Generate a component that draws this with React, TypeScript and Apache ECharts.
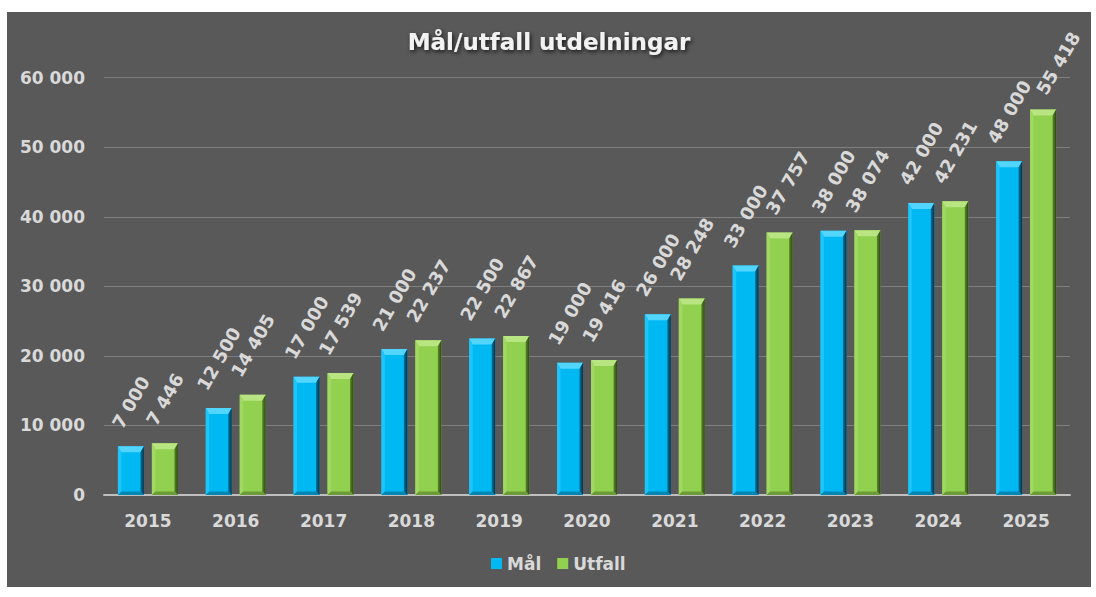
import React, { useEffect, useRef } from "react";
import * as echarts from "echarts";

const years = ["2015", "2016", "2017", "2018", "2019", "2020", "2021", "2022", "2023", "2024", "2025"];
const malValues = [7000, 12500, 17000, 21000, 22500, 19000, 26000, 33000, 38000, 42000, 48000];
const utfallValues = [7446, 14405, 17539, 22237, 22867, 19416, 28248, 37757, 38074, 42231, 55418];
const seriesNames = ["Mål", "Utfall"];
const titleText = "Mål/utfall utdelningar";

const FONT = '"DejaVu Sans", Verdana, sans-serif';
const TEXT = "#d9d9d9";
const LABEL_SIZE = 18;

const fmt = (v: number) => String(v).replace(/\B(?=(\d{3})+(?!\d))/g, " ");

let measureCtx: CanvasRenderingContext2D | null = null;
const measure = (t: string) => {
  if (!measureCtx) {
    const c = document.createElement("canvas");
    measureCtx = c.getContext("2d");
  }
  if (!measureCtx) return t.length * 10;
  measureCtx.font = `bold ${LABEL_SIZE}px ${FONT}`;
  return measureCtx.measureText(t).width;
};

const palettes = [
  { main: "#00b9f2", top: "#52d6ff", left: "#1fc4f8", right: ["#08709a", "#02344a"], bottom: "#0086b5" },
  { main: "#92d050", top: "#b8e482", left: "#a0d862", right: ["#5b882a", "#2e4712"], bottom: "#6c9b37" },
];

// manual nudges of single labels (series-index) -> [dx, dy] pixels, as placed in the reference
const labelNudge: Record<string, [number, number]> = { "1-7": [8, 0], "1-10": [15, 3] };

function makeRender(si: number) {
  const pal = palettes[si];
  return (params: any, api: any) => {
    const idx = api.value(0);
    const val = api.value(1);
    const [cx, yT] = api.coord([idx, val]);
    const [, yB] = api.coord([idx, 0]);
    const band = api.size([1, 0])[0];
    const barW = band * 0.296;
    const gap = band * 0.091;
    const x0 = si === 0 ? cx - gap / 2 - barW : cx + gap / 2;
    const x1 = x0 + barW;
    const b = 3.5;
    const bt = 6;
    const text = fmt(val);
    const w = measure(text);
    const A = 19.5 + 0.433 * w;
    const nudge = labelNudge[`${si}-${params.dataIndex}`] || [0, 0];
    const lx = (x0 + x1) / 2 + nudge[0];
    const ly = yT - A + nudge[1];
    return {
      type: "group",
      children: [
        { type: "rect", shape: { x: x0, y: yT, width: barW, height: yB - yT }, style: { fill: pal.main } },
        {
          type: "polygon",
          shape: { points: [[x0, yT], [x1, yT], [x1 - b, yT + bt], [x0 + b, yT + bt]] },
          style: { fill: pal.top },
        },
        {
          type: "polygon",
          shape: { points: [[x0, yT], [x0 + b, yT + bt], [x0 + b, yB - b], [x0, yB]] },
          style: { fill: pal.left },
        },
        {
          type: "polygon",
          shape: { points: [[x1, yT], [x1, yB], [x1 - b, yB - b], [x1 - b, yT + bt]] },
          style: {
            fill: new echarts.graphic.LinearGradient(0, 0, 1, 0, [
              { offset: 0, color: pal.right[0] },
              { offset: 1, color: pal.right[1] },
            ]),
          },
        },
        {
          type: "polygon",
          shape: { points: [[x0, yB], [x0 + b, yB - b], [x1 - b, yB - b], [x1, yB]] },
          style: { fill: pal.bottom },
        },
        {
          type: "text",
          x: lx,
          y: ly,
          rotation: Math.PI / 3,
          style: {
            text,
            fill: TEXT,
            fontSize: LABEL_SIZE,
            fontWeight: "bold",
            fontFamily: FONT,
            align: "center",
            verticalAlign: "middle",
          },
        },
      ],
    };
  };
}

export default function App() {
  const ref = useRef<HTMLDivElement>(null);
  useEffect(() => {
    if (!ref.current) return;
    const chart = echarts.init(ref.current, undefined, { renderer: "svg" });
    const allSeries = [malValues, utfallValues];
    chart.setOption({
      animation: false,
      backgroundColor: "#595959",
      title: {
        text: titleText,
        left: "center",
        top: 13,
        textStyle: {
          color: "#f2f2f2",
          fontSize: 23,
          fontWeight: "bold",
          fontFamily: FONT,
          textShadowColor: "rgba(0,0,0,0.75)",
          textShadowBlur: 4,
          textShadowOffsetX: 1.5,
          textShadowOffsetY: 2,
        },
      },
      legend: {
        left: 479,
        top: 538,
        itemWidth: 11,
        itemHeight: 11,
        itemGap: 16,
        icon: "rect",
        data: seriesNames,
        textStyle: { color: TEXT, fontSize: 17, fontWeight: "bold", fontFamily: FONT, padding: [0, 0, 0, 0] },
      },
      grid: { left: 97, right: 21, top: 65.7, bottom: 92, containLabel: false },
      xAxis: {
        type: "category",
        data: years,
        axisLine: { show: true, lineStyle: { color: "#bfbfbf", width: 2 } },
        axisTick: { show: false },
        axisLabel: { color: TEXT, fontSize: 17, fontWeight: "bold", fontFamily: FONT, margin: 17 },
      },
      yAxis: {
        type: "value",
        min: 0,
        max: 60000,
        interval: 10000,
        axisLine: { show: false },
        axisTick: { show: false },
        splitLine: { lineStyle: { color: "#7f7f7f", width: 1 } },
        axisLabel: {
          color: TEXT,
          fontSize: 17,
          fontWeight: "bold",
          fontFamily: FONT,
          margin: 19,
          formatter: (v: number) => fmt(v),
        },
      },
      series: allSeries.map((vals, si) => ({
        type: "custom",
        name: seriesNames[si],
        itemStyle: { color: palettes[si].main },
        encode: { x: 0, y: 1 },
        data: vals.map((v, i) => [i, v]),
        renderItem: makeRender(si),
        z: 3,
      })),
    });
    return () => chart.dispose();
  }, []);
  return (
    <div style={{ position: "absolute", left: 0, top: 0, width: 1096, height: 597, background: "#ffffff" }}>
      <div ref={ref} style={{ position: "absolute", left: 7, top: 12, width: 1084, height: 575 }} />
    </div>
  );
}
